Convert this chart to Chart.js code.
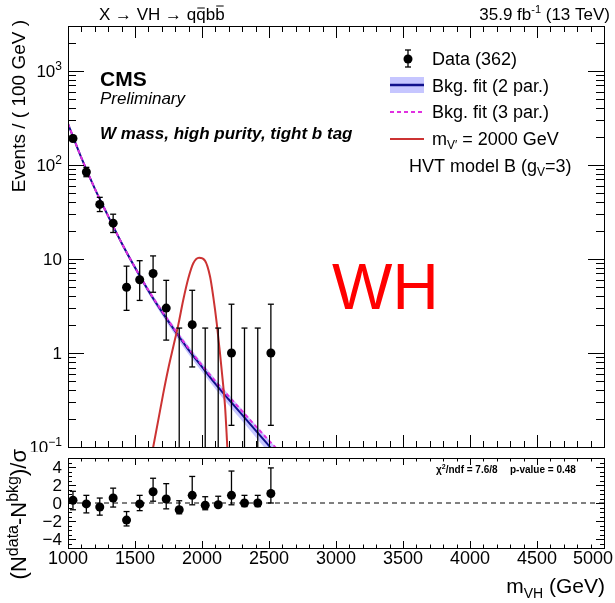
<!DOCTYPE html>
<html lang="en">
<head>
<meta charset="UTF-8">
<title>X to VH, W mass, high purity, tight b tag</title>
<script src="https://cdn.jsdelivr.net/npm/chart.js"></script>
<style>
  body { margin: 0; background: #fff; }
  #wrap { position: relative; width: 615px; height: 603px; overflow: hidden; }
  #mainChart { position: absolute; left: 0; top: 0; }
  #pullChart { position: absolute; left: 0; top: 430px; }
</style>
</head>
<body>
<div id="wrap">
  <canvas id="mainChart" width="615" height="452"></canvas>
  <canvas id="pullChart" width="615" height="173"></canvas>
</div>
<script>
// data
const massBins = [1037, 1137, 1237, 1337, 1437, 1535, 1635, 1733, 1830, 1927, 2024, 2121, 2220, 2317, 2416, 2514];
const dataCounts = [191, 84, 38, 24, 5, 6, 7, 3, 0, 2, 0, 0, 1, 0, 0, 1];
const dataErrLow = [13.3, 9.1, 6.1, 4.9, 2.16, 2.38, 2.58, 1.63, 0, 1.29, 0, 0, 0.83, 0, 0, 0.83];
const dataErrHigh = [14.3, 10.2, 7.2, 5.9, 3.38, 3.58, 3.77, 2.92, 1.84, 2.64, 1.84, 1.84, 2.3, 1.84, 1.84, 2.3];

const fitMass = [1000, 1100, 1200, 1300, 1400, 1500, 1600, 1700, 1800, 1900, 2000, 2100, 2200, 2300, 2400, 2500, 2600, 2700];
const fit2par = [273, 119, 56, 28.5, 14.8, 8.1, 4.6, 2.75, 1.7, 1.08, 0.71, 0.47, 0.32, 0.22, 0.15, 0.103, 0.072, 0.05];
const fit3par = [275, 119, 56, 28.5, 14.8, 8.1, 4.65, 2.8, 1.74, 1.12, 0.74, 0.5, 0.345, 0.24, 0.167, 0.117, 0.083, 0.059];
const fitBandRel = [0.03, 0.03, 0.035, 0.04, 0.05, 0.06, 0.07, 0.08, 0.09, 0.1, 0.11, 0.12, 0.13, 0.14, 0.15, 0.16, 0.17, 0.18];

const sigMass = [1600, 1637, 1674, 1711, 1749, 1786, 1823, 1860, 1898, 1935, 1978, 2022, 2060, 2084, 2110, 2134, 2154, 2172, 2189, 2205];
const sigEvents = [0.054, 0.102, 0.194, 0.372, 0.687, 1.17, 1.99, 3.66, 6.23, 9.0, 10.3, 9.6, 6.5, 3.97, 2.07, 1.0, 0.52, 0.27, 0.10, 0.04];

const pullValues = [0.3, -0.1, -0.45, 0.55, -1.9, -0.1, 1.25, 0.45, -0.75, 0.85, -0.25, -0.2, 0.85, 0, 0, 1.05];
const pullErrUp = [1.0, 0.95, 1.0, 1.1, 0.95, 0.95, 1.5, 1.7, 1.0, 2.1, 0.95, 0.95, 2.7, 0.85, 0.85, 2.85];
const pullErrDown = [1.05, 1.0, 0.9, 1.0, 0.65, 0.75, 1.05, 1.1, 0.45, 1.05, 0.5, 0.25, 1.05, 0.4, 0.4, 1.05];

const xTicks = [1000, 1500, 2000, 2500, 3000, 3500, 4000, 4500, 5000];
const yTicksMain = [0.1, 1, 10, 100, 1000];
const yTicksPull = [-4, -2, 0, 2, 4];

const FAMILY = '"Liberation Sans", Arial, Helvetica, sans-serif';
const font = (size, style) => (style || '') + ' ' + size + 'px ' + FAMILY;

// draw a run of text pieces [text, font, rise]
function richText(ctx, parts, x, y, align) {
  let w = 0;
  parts.forEach(p => { ctx.font = p[1]; w += ctx.measureText(p[0]).width; });
  let cx = align === 'right' ? x - w : align === 'center' ? x - w / 2 : x;
  ctx.textAlign = 'left';
  ctx.textBaseline = 'alphabetic';
  parts.forEach(p => {
    ctx.font = p[1];
    ctx.fillText(p[0], cx, y - (p[2] || 0));
    cx += ctx.measureText(p[0]).width;
  });
  return w;
}

function seg(ctx, x1, y1, x2, y2) {
  ctx.beginPath();
  ctx.moveTo(x1, y1);
  ctx.lineTo(x2, y2);
  ctx.stroke();
}

function errorBar(ctx, px, yTop, yBot, capTop, capBot) {
  seg(ctx, px, yTop, px, yBot);
  if (capTop) seg(ctx, px - 3, yTop, px + 3, yTop);
  if (capBot) seg(ctx, px - 3, yBot, px + 3, yBot);
}

function xFrameTicks(ctx, a, x, major, minor) {
  for (let v = 1000; v <= 5000; v += 100) {
    const px = Math.round(x.getPixelForValue(v)) + 0.5;
    const len = v % 500 === 0 ? major : minor;
    seg(ctx, px, a.bottom, px, a.bottom - len);
    seg(ctx, px, a.top, px, a.top + len);
  }
}

const mainDecor = {
  id: 'mainDecor',
  afterDraw(chart) {
    const { ctx, chartArea: a, scales: { x, y } } = chart;
    ctx.save();
    ctx.strokeStyle = '#000';
    ctx.fillStyle = '#000';

    // data error bars
    ctx.lineWidth = 1.3;
    massBins.forEach((m, i) => {
      const px = x.getPixelForValue(m);
      const lo = dataCounts[i] - dataErrLow[i];
      const yLo = lo > 0 ? Math.min(y.getPixelForValue(lo), a.bottom) : a.bottom;
      const yHi = y.getPixelForValue(dataCounts[i] + dataErrHigh[i]);
      errorBar(ctx, px, yHi, yLo, true, lo > 0);
    });

    // frame and ticks
    ctx.lineWidth = 1;
    ctx.strokeRect(a.left + 0.5, a.top + 0.5, a.right - a.left, a.bottom - a.top);
    xFrameTicks(ctx, a, x, 12, 6);
    for (let d = -1; d <= 3; d++) {
      for (let k = 1; k <= 9; k++) {
        const v = k * Math.pow(10, d);
        if (v > 3000) continue;
        const py = Math.round(y.getPixelForValue(v)) + 0.5;
        const len = k === 1 ? 16 : 8;
        seg(ctx, a.left, py, a.left + len, py);
        seg(ctx, a.right, py, a.right - len, py);
      }
    }

    // y tick labels
    yTicksMain.forEach(v => {
      const py = y.getPixelForValue(v);
      const e = Math.round(Math.log10(v));
      const parts = e === 0 ? [['1', font(17)]] : e === 1 ? [['10', font(17)]]
        : [['10', font(17)], [e < 0 ? '\u2212' + (-e) : String(e), font(12), 7]];
      richText(ctx, parts, 62, py + 6, 'right');
    });

    // y title
    ctx.save();
    ctx.translate(25, 20);
    ctx.rotate(-Math.PI / 2);
    richText(ctx, [['Events / ( 100 GeV )', font(19)]], 0, 0, 'right');
    ctx.restore();

    // header
    const w = richText(ctx, [['X \u2192 VH \u2192 qqbb', font(17)]], 99, 20, 'left');
    ctx.font = font(17);
    const wq = ctx.measureText('q').width;
    const qb = 99 + w - 4 * wq;
    ctx.lineWidth = 1;
    seg(ctx, qb + wq + 1, 8, qb + 2 * wq - 1, 8);
    seg(ctx, qb + 3 * wq + 1, 6, qb + 4 * wq - 1, 6);
    richText(ctx, [['35.9 fb', font(17)], ['-1', font(11), 7], [' (13 TeV)', font(17)]], 610, 20, 'right');

    // CMS labels
    richText(ctx, [['CMS', font(21, 'bold')]], 100, 86, 'left');
    richText(ctx, [['Preliminary', font(17, 'italic')]], 100, 104, 'left');
    richText(ctx, [['W mass, high purity, tight b tag', font(17, 'italic bold')]], 100, 139, 'left');

    // legend
    ctx.beginPath();
    ctx.arc(408, 59, 4.5, 0, Math.PI * 2);
    ctx.fill();
    ctx.lineWidth = 1.3;
    errorBar(ctx, 408, 50, 67, true, true);
    ctx.fillStyle = '#c6c6ff';
    ctx.fillRect(390, 77, 34, 16);
    ctx.strokeStyle = '#10108c';
    ctx.lineWidth = 2.5;
    seg(ctx, 390, 85, 424, 85);
    ctx.strokeStyle = '#e030e0';
    ctx.lineWidth = 2;
    ctx.setLineDash([4, 3]);
    seg(ctx, 390, 112, 424, 112);
    ctx.setLineDash([]);
    ctx.strokeStyle = '#cc3333';
    seg(ctx, 390, 139, 424, 139);
    ctx.fillStyle = '#000';
    richText(ctx, [['Data (362)', font(18)]], 432, 65, 'left');
    richText(ctx, [['Bkg. fit (2 par.)', font(18)]], 432, 92, 'left');
    richText(ctx, [['Bkg. fit (3 par.)', font(18)]], 432, 118, 'left');
    richText(ctx, [['m', font(18)], ['V\u2032', font(12), -4], [' = 2000 GeV', font(18)]], 432, 145, 'left');
    richText(ctx, [['HVT model B (g', font(18)], ['V', font(12), -4], ['=3)', font(18)]], 409, 172, 'left');

    // channel tag
    ctx.fillStyle = '#ff0000';
    richText(ctx, [['WH', font(64)]], 332, 309, 'left');
    ctx.restore();
  }
};

const pullDecor = {
  id: 'pullDecor',
  afterDraw(chart) {
    const { ctx, chartArea: a, scales: { x, y } } = chart;
    ctx.save();
    ctx.strokeStyle = '#000';
    ctx.fillStyle = '#000';
    ctx.lineWidth = 1.3;
    massBins.forEach((m, i) => {
      const px = x.getPixelForValue(m);
      errorBar(ctx, px, y.getPixelForValue(pullValues[i] + pullErrUp[i]),
        y.getPixelForValue(pullValues[i] - pullErrDown[i]), true, true);
    });

    ctx.lineWidth = 1;
    ctx.strokeRect(a.left + 0.5, a.top + 0.5, a.right - a.left, a.bottom - a.top);
    xFrameTicks(ctx, a, x, 7, 3.5);
    for (let v = -4.5; v <= 4.5; v += 0.5) {
      const py = Math.round(y.getPixelForValue(v)) + 0.5;
      const len = v % 2 === 0 ? 8 : 4;
      seg(ctx, a.left, py, a.left + len, py);
      seg(ctx, a.right, py, a.right - len, py);
    }

    yTicksPull.forEach(v => {
      const txt = v < 0 ? '\u2212' + (-v) : String(v);
      richText(ctx, [[txt, font(17)]], 62, y.getPixelForValue(v) + 6, 'right');
    });
    ctx.font = font(18);
    xTicks.forEach(v => {
      const half = ctx.measureText(String(v)).width / 2;
      const cx = Math.min(x.getPixelForValue(v), 613 - half);
      richText(ctx, [[String(v), font(18)]], cx, a.bottom + 16, 'center');
    });
    richText(ctx, [['m', font(21)], ['VH', font(14), -5], [' (GeV)', font(21)]], 605, 163, 'right');

    ctx.save();
    ctx.translate(26, 19);
    ctx.rotate(-Math.PI / 2);
    richText(ctx, [['(N', font(22)], ['data', font(16), 8], ['-N', font(22)], ['bkg', font(16), 8], [')/\u03c3', font(22)]], 0, 0, 'right');
    ctx.restore();

    richText(ctx, [['\u03c7', font(10, 'bold')], ['2', font(7, 'bold'), 4], ['/ndf = 7.6/8', font(10, 'bold')]], 436, 43, 'left');
    richText(ctx, [['p-value = 0.48', font(10, 'bold')]], 510, 43, 'left');
    ctx.restore();
  }
};

const toXY = (xs, ys) => xs.map((v, i) => ({ x: v, y: ys[i] }));

new Chart(document.getElementById('mainChart'), {
  type: 'line',
  data: {
    datasets: [
      {
        label: 'Data (362)', type: 'scatter',
        data: massBins.map((m, i) => ({ x: m, y: dataCounts[i] > 0 ? dataCounts[i] : null })),
        pointRadius: 4.5, pointBackgroundColor: '#000', pointBorderWidth: 0, showLine: false, order: 0
      },
      {
        label: 'signal', data: toXY(sigMass, sigEvents),
        borderColor: '#cc3333', borderWidth: 2, pointRadius: 0, cubicInterpolationMode: 'monotone', order: 1
      },
      {
        label: 'Bkg. fit (3 par.)', data: toXY(fitMass, fit3par),
        borderColor: '#e030e0', borderWidth: 2, borderDash: [4, 3], pointRadius: 0, cubicInterpolationMode: 'monotone', order: 2
      },
      {
        label: 'Bkg. fit (2 par.)', data: toXY(fitMass, fit2par),
        borderColor: '#10108c', borderWidth: 2, pointRadius: 0, cubicInterpolationMode: 'monotone', order: 3
      },
      {
        label: 'band hi', data: toXY(fitMass, fit2par.map((v, i) => v * (1 + fitBandRel[i]))),
        borderColor: 'rgba(0,0,0,0)', backgroundColor: '#c6c6ff', fill: '+1', pointRadius: 0,
        cubicInterpolationMode: 'monotone', order: 4
      },
      {
        label: 'band lo', data: toXY(fitMass, fit2par.map((v, i) => v * (1 - fitBandRel[i]))),
        borderColor: 'rgba(0,0,0,0)', fill: false, pointRadius: 0, cubicInterpolationMode: 'monotone', order: 5
      }
    ]
  },
  options: {
    responsive: false,
    animation: false,
    events: [],
    layout: { padding: { left: 68, right: 11, top: 26, bottom: 5 } },
    plugins: { legend: { display: false }, tooltip: { enabled: false } },
    scales: {
      x: { type: 'linear', min: 1000, max: 5000, display: false },
      y: { type: 'logarithmic', min: 0.1, max: 3000, display: false }
    }
  },
  plugins: [mainDecor]
});

new Chart(document.getElementById('pullChart'), {
  type: 'line',
  data: {
    datasets: [
      {
        label: 'pulls', type: 'scatter', data: toXY(massBins, pullValues),
        pointRadius: 4.5, pointBackgroundColor: '#000', pointBorderWidth: 0, showLine: false, order: 0
      },
      {
        label: 'zero', data: [{ x: 1000, y: 0 }, { x: 5000, y: 0 }],
        borderColor: '#000', borderWidth: 1, borderDash: [5, 4], pointRadius: 0, order: 1
      }
    ]
  },
  options: {
    responsive: false,
    animation: false,
    events: [],
    layout: { padding: { left: 68, right: 11, top: 28, bottom: 55 } },
    plugins: { legend: { display: false }, tooltip: { enabled: false } },
    scales: {
      x: { type: 'linear', min: 1000, max: 5000, display: false },
      y: { type: 'linear', min: -5, max: 5, display: false }
    }
  },
  plugins: [pullDecor]
});
</script>
</body>
</html>
